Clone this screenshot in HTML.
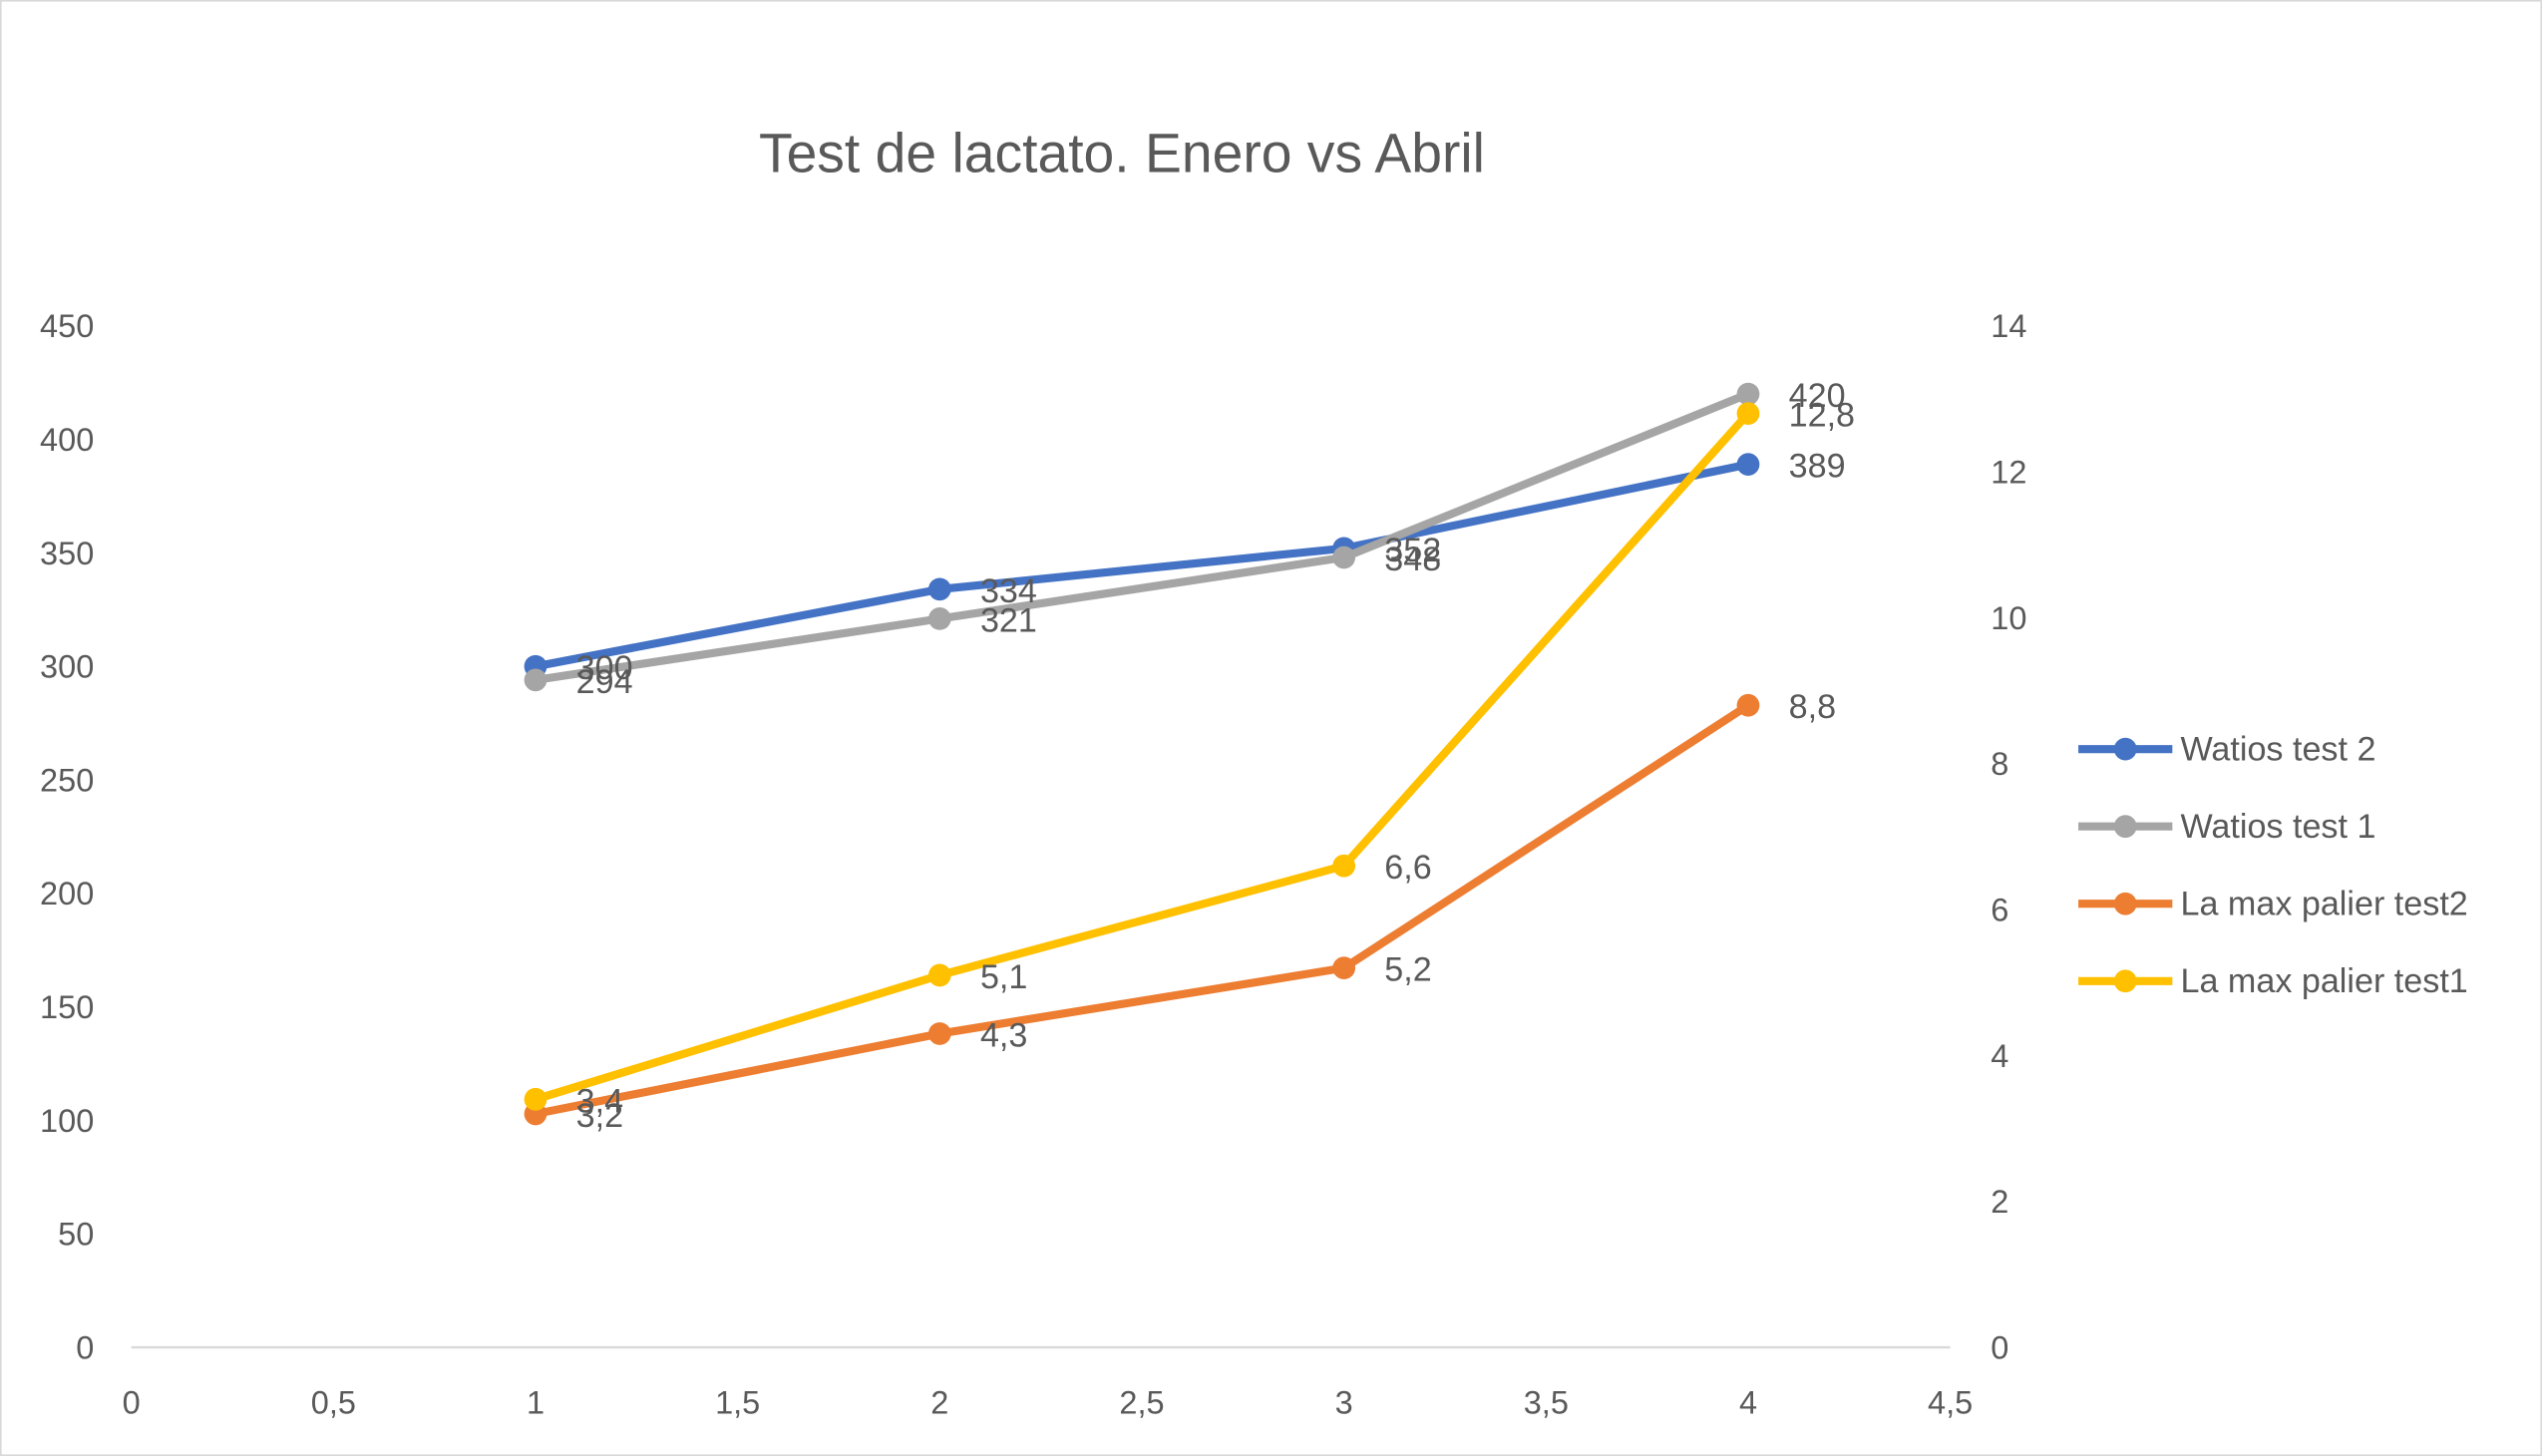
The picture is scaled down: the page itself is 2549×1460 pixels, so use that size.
<!DOCTYPE html>
<html><head><meta charset="utf-8"><style>
html,body{margin:0;padding:0;background:#fff;}
svg{display:block;}
text{font-family:"Liberation Sans",sans-serif;fill:#595959;}
</style></head><body>
<svg id="chart" width="2549" height="1460" viewBox="0 0 1568 898" preserveAspectRatio="none" xmlns="http://www.w3.org/2000/svg">
<rect x="0.5" y="0.5" width="1567" height="897" fill="#fff" stroke="#D9D9D9"/>
<text x="692" y="106" font-size="34" text-anchor="middle">Test de lactato. Enero vs Abril</text>
<line x1="81" y1="831" x2="1203" y2="831" stroke="#D9D9D9" stroke-width="1.5"/>
<g id="ticks"></g>
<g id="series"></g>
<g id="legend"></g>
</svg>
<script>
const categories = [1, 2, 3, 4];
const watiosTest2 = [300, 334, 352, 389];
const watiosTest1 = [294, 321, 348, 420];
const laTest2 = [3.2, 4.3, 5.2, 8.8];
const laTest1 = [3.4, 5.1, 6.6, 12.8];
const xTicks = ["0","0,5","1","1,5","2","2,5","3","3,5","4","4,5"];
const yLeftTicks = [0,50,100,150,200,250,300,350,400,450];
const yRightTicks = [0,2,4,6,8,10,12,14];
const seriesNames = ["Watios test 2","Watios test 1","La max palier test2","La max palier test1"];

const NS="http://www.w3.org/2000/svg";
const xS=v=>81+v*(1203-81)/4.5;
const yL=v=>831-v*(630/450);
const yR=v=>831-v*(630/14);
function mk(tag,attrs,parent){const e=document.createElementNS(NS,tag);for(const k in attrs)e.setAttribute(k,attrs[k]);parent.appendChild(e);return e;}
const tg=document.getElementById('ticks');
xTicks.forEach((t,i)=>{const e=mk('text',{x:xS(i*0.5),y:872,'font-size':20,'text-anchor':'middle'},tg);e.textContent=t;

});
yLeftTicks.forEach(t=>{const e=mk('text',{x:58,y:yL(t)+7,'font-size':20,'text-anchor':'end'},tg);e.textContent=t;

});
yRightTicks.forEach(t=>{const e=mk('text',{x:1228,y:yR(t)+7,'font-size':20,'text-anchor':'start'},tg);e.textContent=t;

});
const sg=document.getElementById('series');
const defs=[
 {d:watiosTest2,y:yL,c:"#4472C4",n:"watios-test-2",fmt:v=>String(v)},
 {d:watiosTest1,y:yL,c:"#A5A5A5",n:"watios-test-1",fmt:v=>String(v)},
 {d:laTest2,y:yR,c:"#ED7D31",n:"la-max-palier-test2",fmt:v=>String(v).replace('.',',')},
 {d:laTest1,y:yR,c:"#FFC000",n:"la-max-palier-test1",fmt:v=>String(v).replace('.',',')}
];
defs.forEach(s=>{
 const pts=s.d.map((v,i)=>xS(categories[i])+','+s.y(v)).join(' ');
 const pl=mk('polyline',{points:pts,fill:'none',stroke:s.c,'stroke-width':5,'stroke-linejoin':'round'},sg);
 
 
 s.d.forEach((v,i)=>{
  const c=mk('circle',{cx:xS(categories[i]),cy:s.y(v),r:7,fill:s.c},sg);
  
  
 });
});
defs.forEach(s=>{
 s.d.forEach((v,i)=>{
  const t=mk('text',{x:xS(categories[i])+25,y:s.y(v)+8,'font-size':21},sg);t.textContent=s.fmt(v);
  
  
 });
});
const lg=document.getElementById('legend');
defs.forEach((s,i)=>{
 const y=462+i*47.7;
 const g=mk('g',{},lg);
 
 
 mk('line',{x1:1282,y1:y,x2:1340,y2:y,stroke:s.c,'stroke-width':5},g);
 mk('circle',{cx:1311,cy:y,r:7,fill:s.c},g);
 const t=mk('text',{x:1345,y:y+7,'font-size':21},g);t.textContent=seriesNames[i];
});
</script>
</body></html>
